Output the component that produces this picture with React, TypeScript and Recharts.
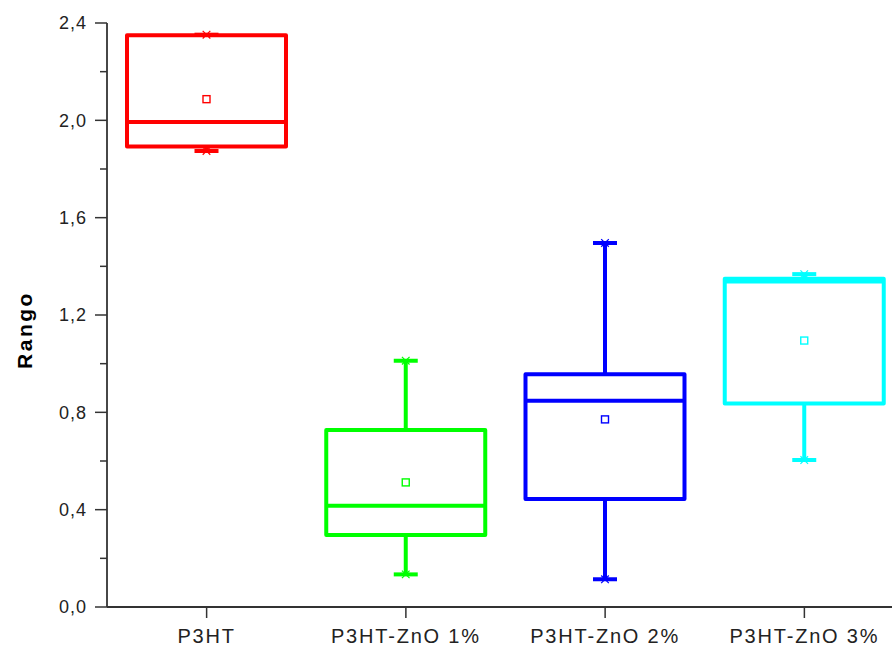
import React from 'react';
import { ComposedChart, Bar, XAxis, YAxis } from 'recharts';

const categories = ['P3HT', 'P3HT-ZnO 1%', 'P3HT-ZnO 2%', 'P3HT-ZnO 3%'];
const minValues = [1.874, 0.134, 0.114, 0.604];
const q1Values = [1.892, 0.296, 0.444, 0.836];
const medianValues = [1.993, 0.416, 0.848, 1.338];
const q3Values = [2.350, 0.727, 0.956, 1.349];
const maxValues = [2.352, 1.012, 1.496, 1.368];
const meanValues = [2.087, 0.512, 0.771, 1.095];
const boxColors = ['#FF0000', '#00FF00', '#0000FF', '#00FFFF'];
const yTicks = [0, 0.2, 0.4, 0.6, 0.8, 1.0, 1.2, 1.4, 1.6, 1.8, 2.0, 2.2, 2.4];
const yLabel = 'Rango';

const data = categories.map((name, i) => ({
  name,
  range: [minValues[i], maxValues[i]],
  min: minValues[i],
  q1: q1Values[i],
  median: medianValues[i],
  q3: q3Values[i],
  max: maxValues[i],
  mean: meanValues[i],
  color: boxColors[i],
}));

const FONT = '"Liberation Sans", Arial, sans-serif';
const AXIS_COLOR = '#333';
const TEXT_COLOR = '#222';

function BoxShape(props: any) {
  const { x, y, width, height, payload } = props;
  if (!payload || x == null || y == null) return null;
  const lo = payload.min;
  const hi = payload.max;
  const top = Math.min(y, y + height);
  const h = Math.abs(height);
  const k = h / (hi - lo);
  const py = (v: number) => top + (hi - v) * k;
  const cx = x + width / 2;
  const c = payload.color;
  const sw = 4;
  const cap = 12;
  const xs = 3.8;
  const cross = (yy: number) => (
    <g stroke={c} strokeWidth={1.2} fill="none">
      <line x1={cx - xs} y1={yy - xs} x2={cx + xs} y2={yy + xs} />
      <line x1={cx - xs} y1={yy + xs} x2={cx + xs} y2={yy - xs} />
    </g>
  );
  return (
    <g>
      <line x1={cx} x2={cx} y1={py(payload.q3)} y2={py(payload.max)} stroke={c} strokeWidth={sw} />
      <line x1={cx} x2={cx} y1={py(payload.q1)} y2={py(payload.min)} stroke={c} strokeWidth={sw} />
      <line x1={cx - cap} x2={cx + cap} y1={py(payload.max)} y2={py(payload.max)} stroke={c} strokeWidth={sw} />
      <line x1={cx - cap} x2={cx + cap} y1={py(payload.min)} y2={py(payload.min)} stroke={c} strokeWidth={sw} />
      {cross(py(payload.max))}
      {cross(py(payload.min))}
      <rect
        x={x}
        y={py(payload.q3)}
        width={width}
        height={py(payload.q1) - py(payload.q3)}
        fill="none"
        stroke={c}
        strokeWidth={sw}
        strokeLinejoin="round"
      />
      <line x1={x} x2={x + width} y1={py(payload.median)} y2={py(payload.median)} stroke={c} strokeWidth={sw} />
      <rect
        x={cx - 3.5}
        y={py(payload.mean) - 3.5}
        width={7}
        height={7}
        fill="none"
        stroke={c}
        strokeWidth={1.4}
      />
    </g>
  );
}

function YTick(props: any) {
  const { x, y, payload } = props;
  const v = payload.value as number;
  const major = Math.round(v * 10) % 4 === 0;
  const axisX = x + 8 + 12;
  return (
    <g>
      <line
        x1={major ? axisX - 12 : axisX - 7}
        x2={axisX}
        y1={y}
        y2={y}
        stroke={AXIS_COLOR}
        strokeWidth={1.5}
      />
      {major && (
        <text
          x={x}
          y={y}
          dy="0.36em"
          textAnchor="end"
          fill={TEXT_COLOR}
          style={{ fontFamily: FONT, fontSize: 18, letterSpacing: 1 }}
        >
          {v.toFixed(1).replace('.', ',')}
        </text>
      )}
    </g>
  );
}

function XTick(props: any) {
  const { x, y, payload } = props;
  return (
    <text
      x={x}
      y={y}
      dy="0.71em"
      textAnchor="middle"
      fill={TEXT_COLOR}
      style={{ fontFamily: FONT, fontSize: 20, letterSpacing: 1.8 }}
    >
      {payload.value}
    </text>
  );
}

function RangoLabel() {
  return (
    <text
      x={24}
      y={330}
      transform="rotate(-90 24 330)"
      textAnchor="middle"
      dominantBaseline="central"
      fill="#000"
      style={{ fontFamily: FONT, fontSize: 21, fontWeight: 'bold', letterSpacing: 2.5 }}
    >
      {yLabel}
    </text>
  );
}

export default function App() {
  return (
    <div
      style={{
        position: 'fixed',
        left: 0,
        top: 0,
        width: 892,
        height: 648,
        overflow: 'hidden',
        background: '#fff',
      }}
    >
      <ComposedChart
        width={904}
        height={648}
        data={data}
        margin={{ top: 23, right: 0, bottom: 0, left: 0 }}
        barCategoryGap={20}
      >
        <XAxis
          dataKey="name"
          type="category"
          height={41}
          tickSize={11}
          tickMargin={11}
          tick={<XTick />}
          tickLine={{ stroke: AXIS_COLOR, strokeWidth: 1.5 }}
          axisLine={{ stroke: AXIS_COLOR, strokeWidth: 1.8 }}
          interval={0}
        />
        <YAxis
          type="number"
          domain={[0, 2.4]}
          ticks={yTicks}
          interval={0}
          width={107}
          tickSize={12}
          tickMargin={8}
          tickLine={false}
          tick={<YTick />}
          axisLine={{ stroke: AXIS_COLOR, strokeWidth: 1.8 }}
          label={<RangoLabel />}
        />
        <Bar dataKey="range" barSize={159} isAnimationActive={false} shape={<BoxShape />} />
      </ComposedChart>
    </div>
  );
}
